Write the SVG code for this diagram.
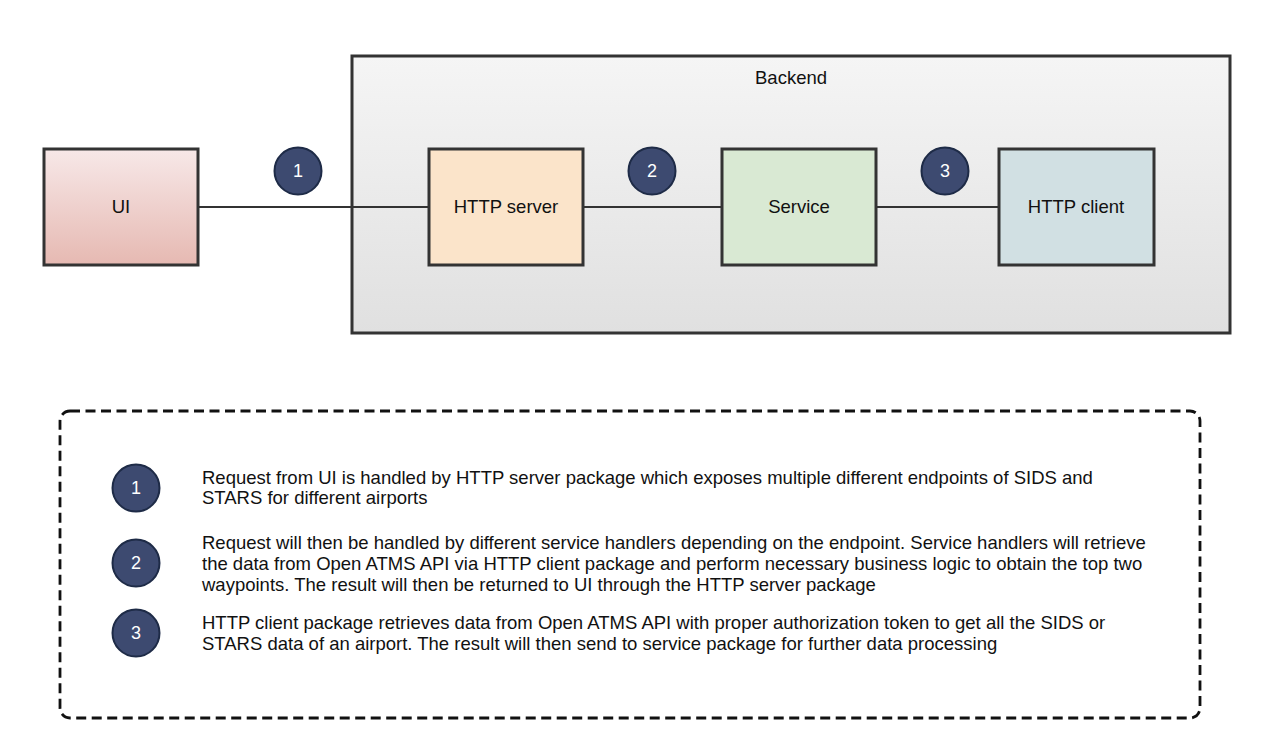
<svg xmlns="http://www.w3.org/2000/svg" width="1280" height="755" viewBox="0 0 1280 755">
<defs>
<linearGradient id="gBack" x1="0" y1="0" x2="0" y2="1"><stop offset="0" stop-color="#f5f5f5"/><stop offset="1" stop-color="#e0e0e0"/></linearGradient>
<linearGradient id="gUI" x1="0" y1="0" x2="0" y2="1"><stop offset="0" stop-color="#f7e8e8"/><stop offset="1" stop-color="#e6b9b2"/></linearGradient>
<style>
.box{stroke:#333333;stroke-width:3}
.lbl{font-family:"Liberation Sans",Arial,sans-serif;font-size:18.5px;fill:#111111;text-anchor:middle}
.num{font-family:"Liberation Sans",Arial,sans-serif;font-size:18px;fill:#ffffff;text-anchor:middle}
.badge{fill:#3d4a70;stroke:#1e2b47;stroke-width:2}
.desc{font-family:"Liberation Sans",Arial,sans-serif;font-size:18.5px;fill:#111111}
.conn{stroke:#333333;stroke-width:2;fill:none}
</style>
</defs>
<rect width="1280" height="755" fill="#ffffff"/>
<g id="backend">
<rect class="box" x="352" y="56" width="878" height="277" fill="url(#gBack)"/>
<text class="lbl" x="791" y="84">Backend</text>
</g>
<g id="connectors">
<line class="conn" x1="198" y1="207" x2="429" y2="207"/>
<line class="conn" x1="583" y1="207" x2="722" y2="207"/>
<line class="conn" x1="876" y1="207" x2="999" y2="207"/>
</g>
<g id="ui">
<rect class="box" x="44" y="149" width="154" height="116" fill="url(#gUI)"/>
<text class="lbl" x="121" y="213">UI</text>
</g>
<g id="http-server">
<rect class="box" x="429" y="149" width="154" height="116" fill="#fbe4ca"/>
<text class="lbl" x="506" y="213">HTTP server</text>
</g>
<g id="service">
<rect class="box" x="722" y="149" width="154" height="116" fill="#d9e9d3"/>
<text class="lbl" x="799" y="213">Service</text>
</g>
<g id="http-client">
<rect class="box" x="999" y="149" width="155" height="116" fill="#d1e0e3"/>
<text class="lbl" x="1076" y="213">HTTP client</text>
</g>
<g id="badge1"><circle class="badge" cx="298" cy="171" r="23.5"/><text class="num" x="298" y="177">1</text></g>
<g id="badge2"><circle class="badge" cx="652" cy="171" r="23.5"/><text class="num" x="652" y="177">2</text></g>
<g id="badge3"><circle class="badge" cx="945" cy="171" r="23.5"/><text class="num" x="945" y="177">3</text></g>
<g id="legend">
<rect x="60" y="411" width="1140" height="307" rx="10" ry="10" fill="none" stroke="#111111" stroke-width="2.8" stroke-dasharray="10,5.5"/>
<g id="legend1"><circle class="badge" cx="136" cy="488" r="23.5"/><text class="num" x="136" y="494">1</text>
<text class="desc" x="202" y="484">Request from UI is handled by HTTP server package which exposes multiple different endpoints of SIDS and</text>
<text class="desc" x="202" y="504">STARS for different airports</text></g>
<g id="legend2"><circle class="badge" cx="136" cy="563" r="23.5"/><text class="num" x="136" y="569">2</text>
<text class="desc" x="202" y="549">Request will then be handled by different service handlers depending on the endpoint. Service handlers will retrieve</text>
<text class="desc" x="202" y="570">the data from Open ATMS API via HTTP client package and perform necessary business logic to obtain the top two</text>
<text class="desc" x="202" y="591">waypoints. The result will then be returned to UI through the HTTP server package</text></g>
<g id="legend3"><circle class="badge" cx="136" cy="633" r="23.5"/><text class="num" x="136" y="639">3</text>
<text class="desc" x="202" y="629">HTTP client package retrieves data from Open ATMS API with proper authorization token to get all the SIDS or</text>
<text class="desc" x="202" y="650">STARS data of an airport. The result will then send to service package for further data processing</text></g>
</g>
</svg>
